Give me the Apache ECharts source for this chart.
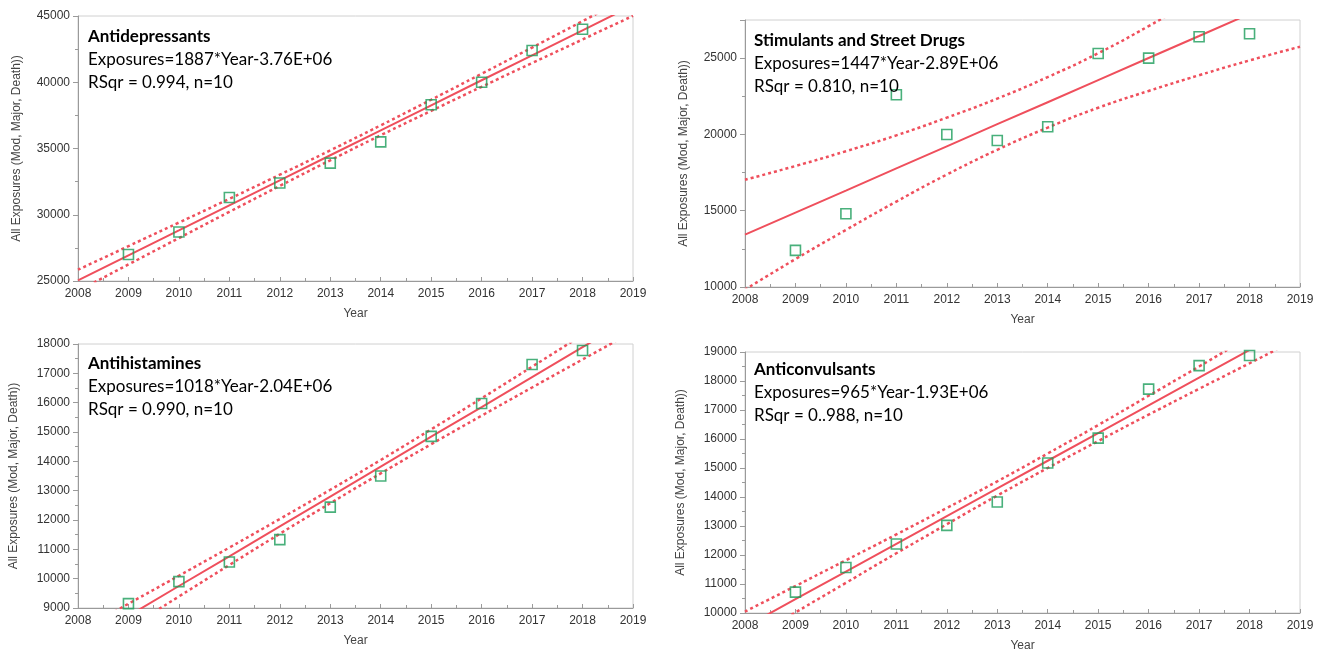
<!DOCTYPE html>
<html>
<head>
<meta charset="utf-8">
<script src="https://cdn.jsdelivr.net/npm/echarts@6/dist/echarts.min.js"></script>
<style>
html,body{margin:0;padding:0;background:#fff;}
#chart{width:1323px;height:656px;}
</style>
</head>
<body>
<div id="chart"></div>
<script>
// ---- data ----
const pointYears = [2009, 2010, 2011, 2012, 2013, 2014, 2015, 2016, 2017, 2018];
const lineYears  = [2008, 2009, 2010, 2011, 2012, 2013, 2014, 2015, 2016, 2017, 2018, 2019];
const yearTicks  = [2008, 2009, 2010, 2011, 2012, 2013, 2014, 2015, 2016, 2017, 2018, 2019];

const antidepValues = [27000, 28700, 31300, 32400, 33900, 35500, 38300, 40000, 42400, 44000];
const antidepFit    = [25050, 26940, 28820, 30710, 32600, 34490, 36370, 38260, 40150, 42030, 43920, 45810];
const antidepUpper  = [25850, 27630, 29410, 31200, 33020, 34860, 36750, 38680, 40640, 42620, 44610, 46610];
const antidepLower  = [24250, 26250, 28240, 30220, 32180, 34110, 36000, 37840, 39660, 41450, 43230, 45010];

const stimValues = [12400, 14800, 22600, 20000, 19600, 20500, 25300, 25000, 26400, 26600];
const stimFit    = [13430, 14880, 16320, 17770, 19220, 20670, 22110, 23560, 25010, 26450, 27900, 29350];
const stimUpper  = [17030, 17930, 18900, 19940, 21100, 22350, 23760, 25320, 27100, 29000, 30950, 32950];
const stimLower  = [ 9830, 11830, 13740, 15600, 17370, 18990, 20450, 21750, 22850, 23880, 24850, 25750];

const antihistValues = [9150, 9900, 10570, 11330, 12440, 13500, 14850, 15970, 17300, 17780];
const antihistFit    = [7710, 8730, 9750, 10760, 11780, 12800, 13820, 14840, 15850, 16870, 17890, 18910];
const antihistUpper  = [8195, 9146, 10100, 11060, 12035, 13030, 14046, 15090, 16150, 17226, 18310, 19390];
const antihistLower  = [7225, 8310, 9392, 10467, 11530, 12572, 13590, 14583, 15557, 16518, 17472, 18423];

const anticonvValues = [10720, 11570, 12380, 13020, 13830, 15170, 16030, 17720, 18530, 18880];
const anticonvFit    = [9520, 10475, 11430, 12385, 13340, 14295, 15250, 16205, 17160, 18115, 19070, 20025];
const anticonvUpper  = [10050, 10930, 11820, 12710, 13620, 14540, 15500, 16480, 17490, 18500, 19530, 20550];
const anticonvLower  = [ 8990, 10020, 11040, 12060, 13060, 14050, 15000, 15930, 16840, 17730, 18610, 19500];

const panels = [
  {title:'Antidepressants', eq:'Exposures=1887*Year-3.76E+06', rsq:'RSqr = 0.994, n=10',
   values:antidepValues, fit:antidepFit, upper:antidepUpper, lower:antidepLower,
   yMin:25000, yMax:45000, yStep:5000},
  {title:'Stimulants and Street Drugs', eq:'Exposures=1447*Year-2.89E+06', rsq:'RSqr = 0.810, n=10',
   values:stimValues, fit:stimFit, upper:stimUpper, lower:stimLower,
   yMin:10000, yMax:27500, yStep:5000},
  {title:'Antihistamines', eq:'Exposures=1018*Year-2.04E+06', rsq:'RSqr = 0.990, n=10',
   values:antihistValues, fit:antihistFit, upper:antihistUpper, lower:antihistLower,
   yMin:9000, yMax:18000, yStep:1000},
  {title:'Anticonvulsants', eq:'Exposures=965*Year-1.93E+06', rsq:'RSqr = 0..988, n=10',
   values:anticonvValues, fit:anticonvFit, upper:anticonvUpper, lower:anticonvLower,
   yMin:10000, yMax:19000, yStep:1000}
];

// ---- layout ----
const grids = [
  {left:78,  width:555, top:16,  height:265},
  {left:745, width:555, top:20,  height:267},
  {left:78,  width:555, top:344, height:264},
  {left:745, width:555, top:352, height:261}
];
const textPos = [
  {x:88, y:28}, {x:754, y:32}, {x:88, y:355}, {x:754, y:361}
];

const RED = '#ef4f5c';
const GREEN = '#1c9c5a';
const AXIS_FONT = '"Liberation Sans", Arial, sans-serif';
const TEXT_FONT = 'Lato, "Open Sans", sans-serif';

const option = {
  animation:false,
  backgroundColor:'#fff',
  grid: grids.map(g => Object.assign({show:true, borderColor:'#d0d0d0', borderWidth:1, backgroundColor:'#fff'}, g)),
  xAxis: panels.map((p,i) => ({
    type:'value', gridIndex:i, min:yearTicks[0], max:yearTicks[yearTicks.length-1], interval:1,
    name:'Year', nameLocation:'middle', nameGap:27,
    nameTextStyle:{fontFamily:AXIS_FONT, fontSize:12, color:'#444'},
    axisLine:{show:true, lineStyle:{color:'#9a9a9a', width:1}},
    axisTick:{show:true, inside:true, length:4, lineStyle:{color:'#9a9a9a'}},
    minorTick:{show:true, splitNumber:2, length:3, lineStyle:{color:'#9a9a9a'}},
    splitLine:{show:false},
    axisLabel:{fontFamily:AXIS_FONT, fontSize:12, color:'#333', margin:7, formatter:v=>String(v)}
  })),
  yAxis: panels.map((p,i) => ({
    type:'value', gridIndex:i, min:p.yMin, max:p.yMax, interval:p.yStep,
    name:'All Exposures (Mod, Major, Death))', nameLocation:'middle', nameGap:(i===2||i===3)?58:55,
    nameTextStyle:{fontFamily:AXIS_FONT, fontSize:12, color:'#444'},
    axisLine:{show:true, lineStyle:{color:'#9a9a9a', width:1}},
    axisTick:{show:true, length:5, lineStyle:{color:'#9a9a9a'}},
    minorTick:{show:true, splitNumber:2, length:3, lineStyle:{color:'#9a9a9a'}},
    splitLine:{show:false},
    axisLabel:{fontFamily:AXIS_FONT, fontSize:12, color:'#333', margin:8, showMaxLabel: p.yMax % p.yStep === 0,
      formatter:v=>String(v)}
  })),
  series: [],
  graphic: []
};

panels.forEach((p,i) => {
  const pair = (xs, ys) => xs.map((x,k) => [x, ys[k]]);
  option.series.push({
    type:'line', xAxisIndex:i, yAxisIndex:i, data:pair(lineYears, p.upper),
    smooth:true, symbol:'none', lineStyle:{color:RED, width:2.5, type:[3,3]}, clip:true, silent:true
  });
  option.series.push({
    type:'line', xAxisIndex:i, yAxisIndex:i, data:pair(lineYears, p.lower),
    smooth:true, symbol:'none', lineStyle:{color:RED, width:2.5, type:[3,3]}, clip:true, silent:true
  });
  option.series.push({
    type:'line', xAxisIndex:i, yAxisIndex:i, data:pair(lineYears, p.fit),
    symbol:'none', lineStyle:{color:RED, width:2}, clip:true, silent:true
  });
  option.series.push({
    type:'scatter', xAxisIndex:i, yAxisIndex:i, data:pair(pointYears, p.values),
    symbol:'rect', symbolSize:10,
    itemStyle:{color:'rgba(255,255,255,0)', borderColor:GREEN, borderWidth:1.6}, z:5
  });
  const t = textPos[i];
  option.graphic.push({
    type:'text', left:t.x, top:t.y, z:10,
    style:{
      text:'{b|'+p.title+'}\n{n|'+p.eq+'}\n{n|'+p.rsq+'}',
      rich:{
        b:{fontFamily:TEXT_FONT, fontSize:17, fontWeight:'bold', color:'#111', lineHeight:23},
        n:{fontFamily:TEXT_FONT, fontSize:17, color:'#111', lineHeight:23}
      }
    }
  });
});

const chart = echarts.init(document.getElementById('chart'), null, {renderer:'canvas'});
chart.setOption(option);
</script>
</body>
</html>
